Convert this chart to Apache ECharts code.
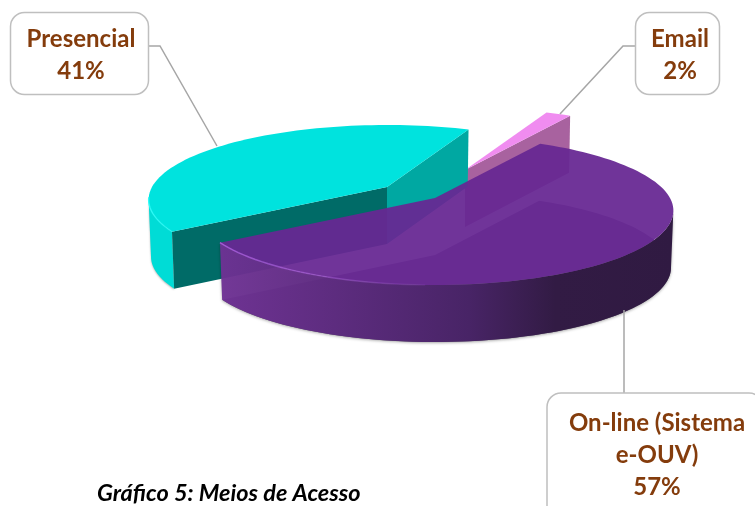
<!DOCTYPE html>
<html>
<head>
<meta charset="utf-8">
<style>html,body{margin:0;padding:0;background:#fff}#c{width:755px;height:506px}</style>
<script src="https://cdn.jsdelivr.net/npm/echarts@6/dist/echarts.min.js"></script>
</head>
<body>
<div id="c"></div>
<script>
// data
const categories = ['On-line (Sistema\ne-OUV)', 'Presencial', 'Email'];
const values = [57, 41, 2];
const caption = 'Gráfico 5: Meios de Acesso';

// projection of the tilted disc
const START = -59.2, RX = 235, RY = 72.4, K = 0.168, DEPTH = 57, TAPER = 0.99;
// one entry per slice, same order as the data
const looks = [
  { c: [435, 198], z: 30, top: 'rgba(103,39,147,0.94)', base: 'rgba(30,0,60,0.6)', rim: '#a45ad6' },
  { c: [387, 187], z: 20, top: '#00e3de', outer: '#00dcd6', a: '#006b67', b: '#00a8a2', rim: '#2cfbf8' },
  { c: [465, 170], z: 10, top: '#f08cf0', b: '#a8629f' }
];
const boxes = [
  { x: 547, y: 393, w: 216, h: 130, tx: 657, ty: 455, line: [[624, 310], [624, 393]] },
  { x: 10.5, y: 12.5, w: 138, h: 82, tx: 81, ty: 55, line: [[148, 46], [160, 46], [217, 146]] },
  { x: 635.5, y: 12.5, w: 84, h: 82, tx: 680, ty: 55, line: [[636, 46], [623, 46], [560, 114]] }
];

const total = values.reduce((s, v) => s + v, 0);
function pt(c, deg) {
  const t = deg * Math.PI / 180, u = Math.cos(t), v = Math.sin(t), d = 1 - K * v;
  return [c[0] + RX * u / d, c[1] + RY * v / d];
}
function low(c, p) { return [c[0] + (p[0] - c[0]) * TAPER, p[1] + DEPTH]; }
function arc(c, a0, a1) {
  const out = [], n = Math.max(2, Math.ceil(Math.abs(a1 - a0) / 2));
  for (let i = 0; i <= n; i++) out.push(pt(c, a0 + (a1 - a0) * i / n));
  return out;
}
function poly(points, fill, z2, extra) {
  return { type: 'polygon', shape: { points }, z2, silent: true, style: Object.assign({ fill }, extra || {}) };
}
function renderItem(params, api) {
  const i = params.dataIndex, look = looks[i], box = boxes[i], c = look.c;
  let a0 = START;
  for (let j = 0; j < i; j++) a0 += values[j] / total * 360;
  const a1 = a0 + api.value(0) / total * 360;
  const topPts = [c].concat(arc(c, a0, a1));
  const kids = [];
  let z = look.z;
  if (look.base) {
    kids.push(poly(topPts.map(p => low(c, p)), look.base, z++));
  }
  // outer wall: only the front facing part of the rim, between the two side extremes
  if (i === 0) {
    const top = arc(c, Math.max(a0, 9.7), Math.min(a1, 170.3)), bot = top.map(p => low(c, p)).reverse();
    kids.push(poly(top.concat(bot), new echarts.graphic.LinearGradient(0, 0, 1, 0, [
      { offset: 0, color: 'rgba(112,50,150,0.95)' },
      { offset: 0.3, color: 'rgba(90,42,124,0.97)' },
      { offset: 0.55, color: 'rgba(72,36,102,1)' },
      { offset: 0.74, color: 'rgba(50,27,68,1)' },
      { offset: 1, color: 'rgba(48,26,66,1)' }
    ]), z++, { shadowColor: 'rgba(0,0,0,0.35)', shadowBlur: 3, shadowOffsetY: 1 }));
  }
  if (look.outer) {
    const top = arc(c, a0, 170.3), bot = top.map(p => low(c, p)).reverse();
    kids.push(poly(top.concat(bot), look.outer, z++, { shadowColor: 'rgba(0,0,0,0.3)', shadowBlur: 2, shadowOffsetY: 1 }));
  }
  if (look.a) {
    const p = pt(c, a0);
    kids.push(poly([c, p, low(c, p), low(c, c)], look.a, z++));
  }
  if (look.b) {
    const p = pt(c, a1);
    kids.push(poly([c, p, low(c, p), low(c, c)], look.b, z++));
  }
  kids.push(poly(topPts, look.top, z++));
  if (look.rim) {
    const p = i === 0 ? arc(c, a1, 92) : arc(c, a0, 172);
    kids.push({
      type: 'polyline', shape: { points: p }, z2: z++, silent: true,
      style: {
        fill: null, lineWidth: 1.4,
        stroke: new echarts.graphic.LinearGradient(0, 0, 1, 0, i === 0
          ? [{ offset: 0, color: look.rim }, { offset: 1, color: look.rim + '20' }]
          : [{ offset: 0, color: look.rim }, { offset: 1, color: look.rim + '60' }])
      }
    });
  }
  // callout
  kids.push({
    type: 'polyline', shape: { points: box.line }, z2: 40, silent: true,
    style: { fill: null, stroke: '#a6a6a6', lineWidth: 1.5 }
  });
  kids.push({
    type: 'rect', shape: { x: box.x, y: box.y, width: box.w, height: box.h, r: 14 }, z2: 41, silent: true,
    style: { fill: '#fff', stroke: '#bfbfbf', lineWidth: 1.5 }
  });
  kids.push({
    type: 'text', z2: 42, silent: true,
    style: {
      text: categories[i] + '\n' + api.value(0) + '%',
      x: box.tx, y: box.ty, align: 'center', verticalAlign: 'middle',
      fill: '#843c0c', font: 'bold 24px Lato', lineHeight: 32
    }
  });
  return { type: 'group', children: kids };
}

const chart = echarts.init(document.getElementById('c'), null, { renderer: 'canvas' });
chart.setOption({
  animation: false,
  backgroundColor: '#fff',
  title: {
    text: caption, left: 97, top: 482, padding: 0,
    textStyle: { fontFamily: 'Lato', fontSize: 23.5, fontWeight: 'bold', fontStyle: 'italic', color: '#000' }
  },
  series: [{
    type: 'custom',
    coordinateSystem: 'none',
    silent: true,
    renderItem,
    data: categories.map((name, i) => ({ name, value: values[i] }))
  }]
});
</script>
</body>
</html>
